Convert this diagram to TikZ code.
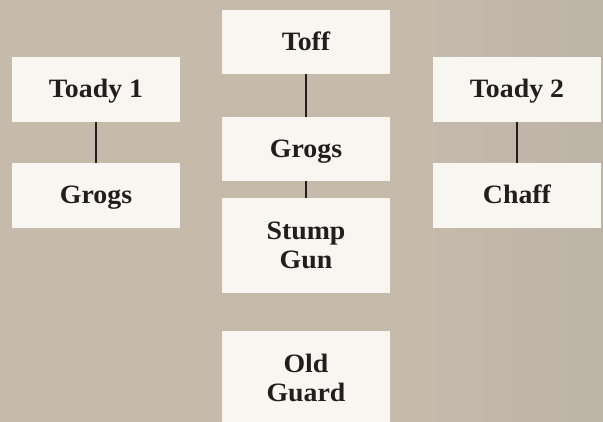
\documentclass[tikz,border=0pt]{standalone}
\usepackage{fontspec}
\setmainfont[FakeStretch=1.05]{Liberation Serif}
\definecolor{bgc}{HTML}{C6BAAB}
\definecolor{bgr}{HTML}{BDB3A7}
\definecolor{boxc}{HTML}{F8F6F1}
\definecolor{inkc}{HTML}{221E1B}
\tikzset{
  card/.style={fill=boxc, draw=none, minimum width=168pt, inner sep=0pt,
    text=inkc, font=\fontsize{26.5}{29}\selectfont\bfseries, align=center},
  onel/.style={card, minimum height=64.5pt, text height=17pt, text depth=0pt},
  twol/.style={card, minimum height=95pt, text height=46pt, text depth=0pt},
  link/.style={draw=inkc, line width=2.2pt}
}
\begin{document}
\begin{tikzpicture}[x=1pt,y=1pt]
\useasboundingbox (0,0) rectangle (603,422);
\fill[bgc] (0,0) rectangle (420,422);
\shade[left color=bgc, right color=bgr] (420,0) rectangle (603,422);
% boxes
\node[onel] (toff)   at (306,380) {Toff};
\node[onel] (grogsm) at (306,273) {Grogs};
\node[twol] (stump)  at (306,176.5) {Stump\\Gun};
\node[twol] (old)    at (306,43.5) {Old\\Guard};
\node[onel] (toady1) at (96,332.5) {Toady 1};
\node[onel] (grogsl) at (96,226.5) {Grogs};
\node[onel] (toady2) at (517,332.5) {Toady 2};
\node[onel] (chaff)  at (517,226.5) {Chaff};
% connectors
\draw[link] (toff.south) -- (grogsm.north);
\draw[link] (grogsm.south) -- (stump.north);
\draw[link] (toady1.south) -- (grogsl.north);
\draw[link] (toady2.south) -- (chaff.north);
\end{tikzpicture}
\end{document}
